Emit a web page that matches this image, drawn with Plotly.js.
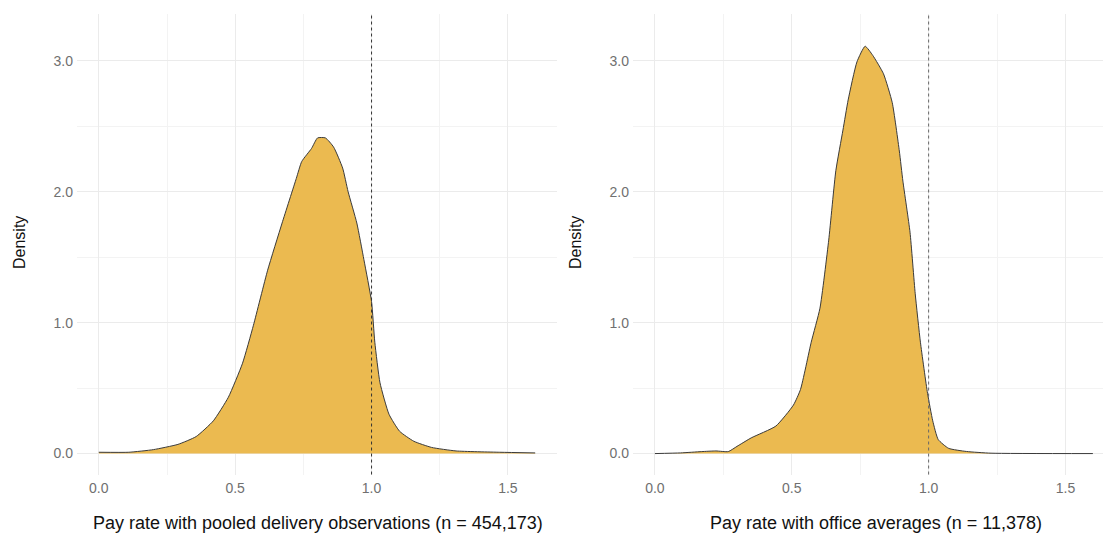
<!DOCTYPE html>
<html>
<head>
<meta charset="utf-8">
<script src="https://cdn.plot.ly/plotly-3.0.1.min.js"></script>
<style>html,body{margin:0;padding:0;background:#fff}#chart{width:1103px;height:536px}</style>
</head>
<body>
<div id="chart"></div>
<script>
// Left panel: pooled delivery observations
const pooledX = [0, 0.11, 0.2, 0.29, 0.357, 0.42, 0.475, 0.527, 0.567, 0.619, 0.672, 0.724, 0.744, 0.78, 0.802, 0.831, 0.861, 0.894, 0.914, 0.946, 0.972, 1.0, 1.012, 1.031, 1.064, 1.103, 1.155, 1.22, 1.31, 1.47, 1.6];
const pooledY = [0.01, 0.01, 0.03, 0.07, 0.13, 0.25, 0.43, 0.69, 0.98, 1.40, 1.76, 2.10, 2.23, 2.33, 2.41, 2.41, 2.34, 2.18, 2.0, 1.76, 1.48, 1.16, 0.85, 0.54, 0.30, 0.17, 0.094, 0.047, 0.02, 0.01, 0.005];
// Right panel: office averages
const officeX = [0, 0.094, 0.171, 0.223, 0.268, 0.30, 0.352, 0.442, 0.506, 0.532, 0.571, 0.603, 0.635, 0.661, 0.687, 0.706, 0.738, 0.768, 0.796, 0.835, 0.867, 0.893, 0.906, 0.932, 0.951, 0.97, 0.996, 1.015, 1.035, 1.073, 1.138, 1.228, 1.6];
const officeY = [0, 0.005, 0.015, 0.02, 0.015, 0.055, 0.12, 0.21, 0.37, 0.49, 0.85, 1.11, 1.63, 2.16, 2.47, 2.70, 2.99, 3.11, 3.04, 2.90, 2.68, 2.31, 2.08, 1.69, 1.22, 0.85, 0.46, 0.25, 0.107, 0.04, 0.016, 0.003, 0];
const xTickVals = [0, 0.5, 1.0, 1.5];
const xTickText = ['0.0', '0.5', '1.0', '1.5'];
const yTickVals = [0, 1, 2, 3];
const yTickText = ['0.0', '1.0', '2.0', '3.0'];
const refLine = 1.0;
const xTitleLeft = 'Pay rate with pooled delivery observations (n = 454,173)';
const xTitleRight = 'Pay rate with office averages (n = 11,378)';
const yTitle = 'Density';

const fill = '#EBBA50';
const lineCol = '#3a3a3a';

const traces = [
  {x: pooledX, y: pooledY, type: 'scatter', mode: 'lines', fill: 'tozeroy', fillcolor: fill,
   line: {color: lineCol, width: 1, shape: 'spline', smoothing: 0.5}, xaxis: 'x', yaxis: 'y', hoverinfo: 'x+y'},
  {x: officeX, y: officeY, type: 'scatter', mode: 'lines', fill: 'tozeroy', fillcolor: fill,
   line: {color: lineCol, width: 1, shape: 'spline', smoothing: 0.5}, xaxis: 'x2', yaxis: 'y2', hoverinfo: 'x+y'}
];

const fontFam = 'Liberation Sans, Arial, sans-serif';
const tickFont = {family: fontFam, size: 14, color: '#707070'};
function xax(domain, range, anchor) {
  return {
    domain: domain, anchor: anchor, range: range,
    tickvals: xTickVals, ticktext: xTickText,
    showgrid: true, gridcolor: '#ebebeb', gridwidth: 1,
    minor: {tickvals: [0.25, 0.75, 1.25], showgrid: true, gridcolor: '#f3f3f3', gridwidth: 1},
    zeroline: false, showline: false, ticks: '', ticklabelstandoff: 3,
    tickfont: tickFont
  };
}
function yax(anchor) {
  return {
    domain: [0.1147, 0.9748], anchor: anchor, range: [-0.16, 3.36],
    tickvals: yTickVals, ticktext: yTickText,
    showgrid: true, gridcolor: '#ebebeb', gridwidth: 1,
    minor: {tickvals: [0.5, 1.5, 2.5], showgrid: true, gridcolor: '#f3f3f3', gridwidth: 1},
    zeroline: false, showline: false, ticks: '', ticklabelstandoff: 3,
    tickfont: tickFont
  };
}

const titleFont = {family: fontFam, size: 18, color: '#111'};
const yTitleFont = {family: fontFam, size: 16, color: '#111'};

const layout = {
  width: 1103, height: 536,
  margin: {l: 0, r: 0, t: 0, b: 0},
  paper_bgcolor: '#fff', plot_bgcolor: '#fff',
  showlegend: false,
  xaxis: xax([77/1103, 557/1103], [-0.08, 1.68], 'y'),
  yaxis: yax('x'),
  xaxis2: xax([633/1103, 1], [-0.08, 1.637], 'y2'),
  yaxis2: yax('x2'),
  annotations: [
    {text: xTitleLeft, xref: 'paper', yref: 'paper', x: 318/1103, y: (536-523)/536, xanchor: 'center', yanchor: 'middle', showarrow: false, font: titleFont},
    {text: xTitleRight, xref: 'paper', yref: 'paper', x: 876/1103, y: (536-523)/536, xanchor: 'center', yanchor: 'middle', showarrow: false, font: titleFont},
    {text: yTitle, xref: 'paper', yref: 'paper', x: 20/1103, y: (536-243)/536, xanchor: 'center', yanchor: 'middle', textangle: -90, showarrow: false, font: yTitleFont},
    {text: yTitle, xref: 'paper', yref: 'paper', x: 576/1103, y: (536-243)/536, xanchor: 'center', yanchor: 'middle', textangle: -90, showarrow: false, font: yTitleFont}
  ],
  shapes: [
    {type: 'line', xref: 'x', yref: 'y domain', x0: refLine, x1: refLine, y0: 0, y1: 1,
     line: {color: '#333', width: 1, dash: 'dot'}},
    {type: 'line', xref: 'x2', yref: 'y2 domain', x0: refLine, x1: refLine, y0: 0, y1: 1,
     line: {color: '#666', width: 1, dash: 'dot'}}
  ]
};

Plotly.newPlot('chart', traces, layout, {displayModeBar: false, staticPlot: true});
</script>
</body>
</html>
